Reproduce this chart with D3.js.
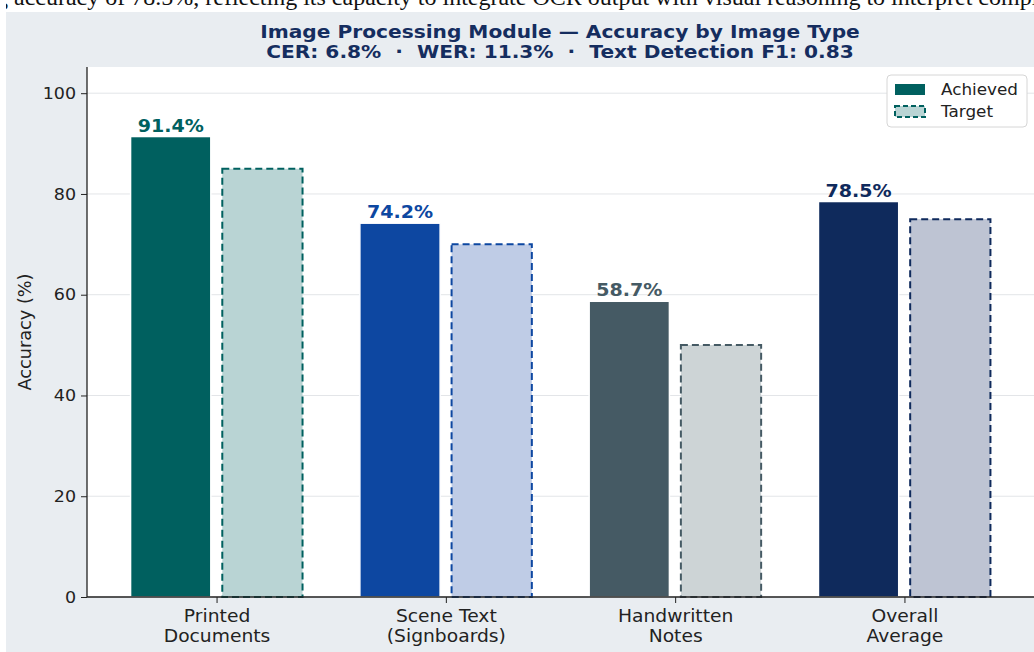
<!DOCTYPE html>
<html><head><meta charset="utf-8">
<script src="https://cdn.jsdelivr.net/npm/d3@7"></script>
<style>body{margin:0;background:#fff;}svg{display:block;}</style>
</head><body>
<svg id="c" width="1034" height="652"></svg>
<script>
const categories = [["Printed","Documents"],["Scene Text","(Signboards)"],["Handwritten","Notes"],["Overall","Average"]];
const achieved = [91.4, 74.2, 58.7, 78.5];
const target = [85, 70, 50, 75];
const yTicks = [0, 20, 40, 60, 80, 100];
const darkColors = ["#00605f", "#0d47a1", "#455a64", "#0f2a5c"];
const lightColors = ["#b9d4d4", "#bfcce6", "#cdd4d6", "#bec4d3"];
const titleLines = ["Image Processing Module — Accuracy by Image Type", "CER: 6.8%  ·  WER: 11.3%  ·  Text Detection F1: 0.83"];
const seriesNames = ["Achieved", "Target"];

const svg = d3.select("#c");
function stretch(sel, f) {
  sel.each(function() {
    const len = this.getComputedTextLength();
    d3.select(this).attr("textLength", len * f).attr("lengthAdjust", "spacingAndGlyphs");
  });
}
// page text above figure (clipped)
svg.append("text").attr("x", -4).attr("y", 5).attr("font-family", "Liberation Serif").attr("font-size", 24).attr("fill", "#111")
  .text("g accuracy of 78.5%, reflecting its capacity to integrate OCR output with visual reasoning to interpret complex scenes");
svg.append("rect").attr("x", 0).attr("y", 12).attr("width", 1034).attr("height", 640).attr("fill", "#e9edf1");
svg.append("rect").attr("x", 0).attr("y", 0).attr("width", 6).attr("height", 652).attr("fill", "#fff");

const L = 87, R = 1034, T = 67, B = 597;
svg.append("rect").attr("x", L).attr("y", T).attr("width", R - L).attr("height", B - T).attr("fill", "#fff");

const idx = categories.map((d, i) => i);
const x = d3.scalePoint().domain(idx).range([L, R]).padding(0.565);
const step = x.step();
const y = d3.scaleLinear().domain([0, 105.2]).range([B, T]);

// grid
svg.append("g").selectAll("line").data(yTicks).join("line")
  .attr("x1", L).attr("x2", R).attr("y1", d => y(d)).attr("y2", d => y(d))
  .attr("stroke", "#e3e5e8").attr("stroke-width", 1);

const bw = 0.35 * step, off = 0.2 * step;
// target bars
svg.append("g").selectAll("rect").data(target).join("rect")
  .attr("x", (d, i) => x(i) + off - bw / 2).attr("width", bw)
  .attr("y", d => y(d)).attr("height", d => B - y(d))
  .attr("fill", (d, i) => lightColors[i]).attr("stroke", (d, i) => darkColors[i])
  .attr("stroke-width", 2).attr("stroke-dasharray", "7,4");
// achieved bars
svg.append("g").selectAll("rect").data(achieved).join("rect")
  .attr("x", (d, i) => x(i) - off - bw / 2).attr("width", bw)
  .attr("y", d => y(d)).attr("height", d => B - y(d))
  .attr("fill", (d, i) => darkColors[i]).attr("stroke", "#fff").attr("stroke-width", 1.5);
// value labels
const vl = svg.append("g").selectAll("text").data(achieved).join("text")
  .attr("x", (d, i) => x(i) - off).attr("y", d => y(d) - 5)
  .attr("text-anchor", "middle").attr("font-family", "DejaVu Sans").attr("font-weight", "bold")
  .attr("font-size", 17).attr("fill", (d, i) => darkColors[i])
  .text(d => d.toFixed(1) + "%");
stretch(vl, 1.12);

// axes
const yAxis = d3.axisLeft(y).tickValues(yTicks).tickSize(6).tickPadding(5);
const gy = svg.append("g").attr("transform", `translate(${L},0)`).call(yAxis);
gy.select(".domain").attr("d", `M0,${T}V${B}`).attr("stroke", "#222").attr("stroke-width", 1.3);
gy.selectAll(".tick line").attr("stroke", "#222");
gy.selectAll(".tick text").attr("font-family", "DejaVu Sans").attr("font-size", 16.5).attr("fill", "#222");
stretch(gy.selectAll(".tick text"), 1.06);

const xAxis = d3.axisBottom(x).tickSize(6).tickFormat(() => "");
const gx = svg.append("g").attr("transform", `translate(0,${B})`).call(xAxis);
gx.select(".domain").attr("d", `M${L},0H${R}`).attr("stroke", "#222").attr("stroke-width", 1.3);
gx.selectAll(".tick line").attr("stroke", "#222");
gx.selectAll(".tick").each(function(d) {
  categories[d].forEach((s, k) => {
    const t = d3.select(this).append("text").attr("font-family", "DejaVu Sans").attr("font-size", 17)
      .attr("fill", "#222").attr("text-anchor", "middle").attr("x", 0).attr("y", 25 + k * 20).text(s);
    stretch(t, 1.1);
  });
});

// y label
const yl = svg.append("text").attr("transform", `translate(31,${(T + B) / 2}) rotate(-90)`)
  .attr("text-anchor", "middle").attr("font-family", "DejaVu Sans").attr("font-size", 17).attr("fill", "#222")
  .text("Accuracy (%)");
stretch(yl, 1.04);

// title
const tl = svg.append("g").selectAll("text").data(titleLines).join("text")
  .attr("x", 560).attr("y", (d, i) => 38 + i * 20).attr("text-anchor", "middle")
  .attr("font-family", "DejaVu Sans").attr("font-weight", "bold").attr("font-size", 18).attr("fill", "#152d5f")
  .attr("xml:space", "preserve").style("white-space", "pre")
  .text(d => d);
stretch(tl, 1.12);

// legend
const lg = svg.append("g");
lg.append("rect").attr("x", 887).attr("y", 75).attr("width", 140).attr("height", 52).attr("rx", 4)
  .attr("fill", "#fff").attr("stroke", "#d6d6d6");
lg.append("rect").attr("x", 895).attr("y", 84).attr("width", 30).attr("height", 11).attr("fill", darkColors[0]);
lg.append("rect").attr("x", 895).attr("y", 106).attr("width", 30).attr("height", 11).attr("fill", lightColors[0])
  .attr("stroke", darkColors[0]).attr("stroke-width", 2).attr("stroke-dasharray", "5,3");
const lt = lg.selectAll("text").data(seriesNames).join("text")
  .attr("x", 941).attr("y", (d, i) => 95 + i * 22).attr("font-family", "DejaVu Sans").attr("font-size", 16).attr("fill", "#222")
  .text(d => d);
stretch(lt, 1.05);
</script>
</body></html>
